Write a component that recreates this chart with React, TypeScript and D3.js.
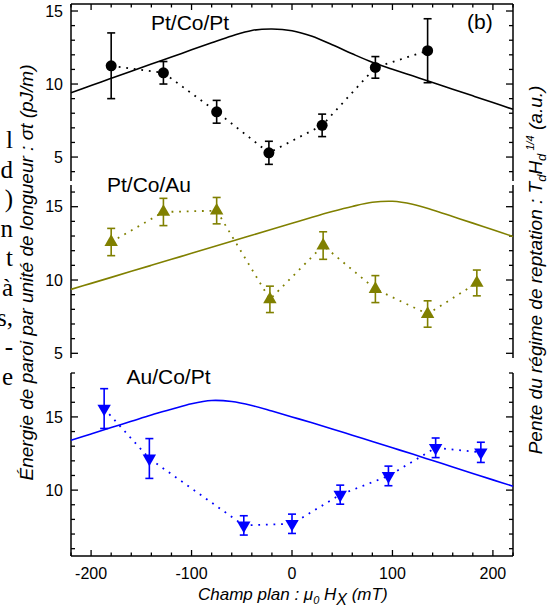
import React from 'react';
import * as d3 from 'd3';

// ---------- data ----------
const fieldTickLabels = [-200, -100, 0, 100, 200];
const fitField = [-220, -200, -180, -160, -140, -120, -100, -80, -60, -40, -20, 0, 20, 40, 60, 80, 100, 120, 140, 160, 180, 200, 220];

// Pt/Co/Pt (black circles)
const ptcoptField = [-180, -128, -75, -23, 30, 83, 135];
const ptcoptSigma = [11.25, 10.77, 8.1, 5.29, 7.17, 11.14, 12.28];
const ptcoptErr = [2.25, 0.77, 0.78, 0.79, 0.77, 0.74, 2.19];
const ptcoptFit = [9.41, 9.9, 10.39, 10.88, 11.37, 11.85, 12.34, 12.82, 13.29, 13.67, 13.77, 13.65, 13.27, 12.69, 12.07, 11.49, 11.02, 10.56, 10.1, 9.65, 9.19, 8.73, 8.27];

// Pt/Co/Au (olive up triangles)
const ptcoauField = [-180, -128, -75, -22, 31, 83, 135, 184];
const ptcoauSigma = [12.59, 14.64, 14.73, 8.68, 12.35, 9.38, 7.68, 9.8];
const ptcoauErr = [0.93, 0.93, 0.9, 0.9, 0.94, 0.92, 0.9, 0.88];
const ptcoauFit = [9.36, 9.77, 10.18, 10.59, 11.0, 11.41, 11.82, 12.23, 12.64, 13.05, 13.46, 13.87, 14.28, 14.67, 15.02, 15.3, 15.37, 15.17, 14.78, 14.33, 13.88, 13.42, 12.97];

// Au/Co/Pt (blue down triangles)
const aucoptField = [-187, -142, -48, 0, 48, 96, 143, 188];
const aucoptSigma = [15.57, 12.16, 7.59, 7.7, 9.69, 10.97, 12.89, 12.58];
const aucoptErr = [1.36, 1.36, 0.66, 0.66, 0.65, 0.67, 0.67, 0.69];
const aucoptFit = [13.41, 13.84, 14.27, 14.7, 15.13, 15.52, 15.9, 16.12, 16.05, 15.78, 15.4, 15.0, 14.6, 14.18, 13.75, 13.32, 12.89, 12.46, 12.02, 11.58, 11.14, 10.7, 10.27];

const sideFragments = ['l', 'd', ')', 'n', 't', 'à', 's,', '-', 'e'];

// ---------- layout ----------
const W = 551, H = 615;
const X0 = 71, X1 = 513;
const FONT = "'Liberation Sans', Arial, Helvetica, sans-serif";

const xScale = d3.scaleLinear().domain([-220, 220]).range([X0, X1]);

type PanelCfg = {
  label: string; lx: number; ly: number;
  color: string; marker: 'circle' | 'up' | 'down';
  yDomain: [number, number]; yRange: [number, number];
  field: number[]; sigma: number[]; err: number[]; fit: number[];
};

const panels: PanelCfg[] = [
  { label: 'Pt/Co/Pt', lx: 151, ly: 30, color: '#000000', marker: 'circle', yDomain: [3.36, 15.48], yRange: [181, 4], field: ptcoptField, sigma: ptcoptSigma, err: ptcoptErr, fit: ptcoptFit },
  { label: 'Pt/Co/Au', lx: 107, ly: 191.5, color: '#808000', marker: 'up', yDomain: [4.68, 16.48], yRange: [358, 185], field: ptcoauField, sigma: ptcoauSigma, err: ptcoauErr, fit: ptcoauFit },
  { label: 'Au/Co/Pt', lx: 126.5, ly: 384, color: '#0000ff', marker: 'down', yDomain: [5.5, 18.0], yRange: [556, 373], field: aucoptField, sigma: aucoptSigma, err: aucoptErr, fit: aucoptFit },
];

function Panel({ p }: { p: PanelCfg }) {
  const y = d3.scaleLinear().domain(p.yDomain).range(p.yRange);
  const ticks = d3.range(Math.ceil(p.yDomain[0] - 1e-6), Math.floor(p.yDomain[1] + 0.03) + 1);
  const fitLine = d3.line<number>().x((_, i) => xScale(fitField[i])).y((d) => y(d)).curve(d3.curveCatmullRom.alpha(0.5));
  const dotLine = d3.line<number>().x((_, i) => xScale(p.field[i])).y((d) => y(d));
  const triUp = d3.symbol().type(d3.symbolTriangle).size(78)()!;
  return (
    <g>
      <line x1={X0} x2={X0} y1={p.yRange[1]} y2={p.yRange[0]} stroke="#000" strokeWidth={1.5} />
      <line x1={X1} x2={X1} y1={p.yRange[1]} y2={p.yRange[0]} stroke="#000" strokeWidth={1.5} />
      {ticks.map((t) => {
        const major = t % 5 === 0;
        const len = major ? 7 : 4;
        const yy = Math.min(Math.max(y(t), p.yRange[1]), p.yRange[0]);
        return (
          <g key={t}>
            <line x1={X0} x2={X0 + len} y1={yy} y2={yy} stroke="#000" strokeWidth={1.3} />
            <line x1={X1} x2={X1 - len} y1={yy} y2={yy} stroke="#000" strokeWidth={1.3} />
            {major && (
              <text x={X0 - 8} y={yy} dy="0.36em" textAnchor="end" fontSize={16} fontFamily={FONT}>{t}</text>
            )}
          </g>
        );
      })}
      <path d={fitLine(p.fit)!} fill="none" stroke={p.color} strokeWidth={1.6} />
      <path d={dotLine(p.sigma)!} fill="none" stroke={p.color} strokeWidth={1.8} strokeDasharray="1.8 5.8" />
      {p.sigma.map((v, i) => {
        const cx = xScale(p.field[i]);
        const yt = y(v + p.err[i]);
        const yb = y(v - p.err[i]);
        return (
          <g key={i}>
            <line x1={cx} x2={cx} y1={yt} y2={yb} stroke={p.color} strokeWidth={1.6} />
            <line x1={cx - 4} x2={cx + 4} y1={yt} y2={yt} stroke={p.color} strokeWidth={1.6} />
            <line x1={cx - 4} x2={cx + 4} y1={yb} y2={yb} stroke={p.color} strokeWidth={1.6} />
            {p.marker === 'circle' && <circle cx={cx} cy={y(v)} r={5.5} fill={p.color} />}
            {p.marker === 'up' && <path d={triUp} transform={`translate(${cx},${y(v)})`} fill={p.color} />}
            {p.marker === 'down' && <path d={triUp} transform={`translate(${cx},${y(v)}) rotate(180)`} fill={p.color} />}
          </g>
        );
      })}
      <text x={p.lx} y={p.ly} fontSize={21} fontFamily={FONT}>{p.label}</text>
    </g>
  );
}

export default function App() {
  const minor = d3.range(-220, 221, 20);
  const TOP = 4, BOT = 556;
  return (
    <svg width={W} height={H} style={{ position: 'absolute', left: 0, top: 0, background: '#fff' }}>
      <rect x={0} y={0} width={W} height={H} fill="#fff" />
      {sideFragments.map((s, i) => (
        <text key={i} x={13} y={148 + i * 29.6} textAnchor="end" fontSize={25} fontFamily="'Liberation Serif', 'DejaVu Serif', serif">{s}</text>
      ))}
      <line x1={X0} x2={X1} y1={TOP} y2={TOP} stroke="#000" strokeWidth={1.5} />
      <line x1={X0} x2={X1} y1={BOT} y2={BOT} stroke="#000" strokeWidth={1.5} />
      {minor.map((t) => {
        const major = t % 100 === 0;
        const len = major ? 6 : 3.5;
        return (
          <g key={t}>
            <line x1={xScale(t)} x2={xScale(t)} y1={BOT} y2={BOT - len} stroke="#000" strokeWidth={1.3} />
            <line x1={xScale(t)} x2={xScale(t)} y1={TOP} y2={TOP + len} stroke="#000" strokeWidth={1.3} />
          </g>
        );
      })}
      {fieldTickLabels.map((t) => (
        <text key={t} x={xScale(t)} y={579} textAnchor="middle" fontSize={16} fontFamily={FONT}>{t}</text>
      ))}
      {panels.map((p) => <Panel key={p.label} p={p} />)}
      <text x={198} y={600} fontSize={17} fontStyle="italic" fontFamily={FONT}>
        Champ plan : μ<tspan dy={4} fontSize={11}>0</tspan><tspan dy={-4}> H</tspan><tspan dy={5} fontSize={16}>X</tspan><tspan dy={-5}> (mT)</tspan>
      </text>
      <text transform="translate(33,272.5) rotate(-90)" textAnchor="middle" fontSize={19} fontStyle="italic" fontFamily={FONT}>
        Énergie de paroi par unité de longueur : σt (pJ/m)
      </text>
      <text transform="translate(542,270) rotate(-90)" textAnchor="middle" fontSize={19} fontStyle="italic" fontFamily={FONT}>
        Pente du régime de reptation : T<tspan dy={4} fontSize={13}>d</tspan><tspan dy={-4}>H</tspan><tspan dy={4} fontSize={13}>d</tspan><tspan dy={-12} fontSize={11}> 1/4</tspan><tspan dy={8}> (a.u.)</tspan>
      </text>
      <text x={467} y={28.5} fontSize={21} fontFamily={FONT}>(b)</text>
    </svg>
  );
}
